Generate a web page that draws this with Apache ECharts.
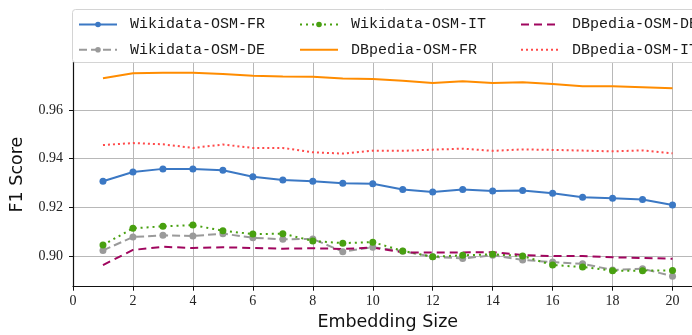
<!DOCTYPE html>
<html>
<head>
<meta charset="utf-8">
<script src="https://cdn.jsdelivr.net/npm/echarts@6/dist/echarts.min.js"></script>
<style>
  html, body { margin: 0; padding: 0; background: #fff; }
  #chart { width: 692px; height: 335px; }
</style>
</head>
<body>
<div id="chart"></div>
<script>
// Embedding sizes on the x axis
const sizes = [1, 2, 3, 4, 5, 6, 7, 8, 9, 10, 11, 12, 13, 14, 15, 16, 17, 18, 19, 20];

// F1 scores per dataset pair
const wikidataFR = [0.9307, 0.9345, 0.9358, 0.9357, 0.9352, 0.9326, 0.9312, 0.9307, 0.9299, 0.9297,
                    0.9273, 0.9263, 0.9273, 0.9267, 0.9269, 0.9258, 0.9241, 0.9237, 0.9232, 0.9210];
const wikidataDE = [0.9023, 0.9078, 0.9085, 0.9082, 0.9092, 0.9075, 0.9069, 0.9070, 0.9018, 0.9036,
                    0.9020, 0.8997, 0.8990, 0.9003, 0.8984, 0.8975, 0.8968, 0.8943, 0.8948, 0.8917];
const wikidataIT = [0.9045, 0.9114, 0.9122, 0.9127, 0.9104, 0.9090, 0.9092, 0.9062, 0.9053, 0.9057,
                    0.9021, 0.8997, 0.9003, 0.9007, 0.9000, 0.8963, 0.8955, 0.8940, 0.8940, 0.8941];
const dbpediaFR  = [0.9730, 0.9751, 0.9753, 0.9753, 0.9748, 0.9741, 0.9738, 0.9736, 0.9729, 0.9727,
                    0.9720, 0.9711, 0.9718, 0.9711, 0.9714, 0.9707, 0.9697, 0.9697, 0.9693, 0.9689];
const dbpediaDE  = [0.8963, 0.9025, 0.9038, 0.9033, 0.9036, 0.9033, 0.9030, 0.9032, 0.9029, 0.9035,
                    0.9015, 0.9015, 0.9015, 0.9016, 0.9004, 0.9000, 0.9000, 0.8995, 0.8992, 0.8989];
const dbpediaIT  = [0.9456, 0.9464, 0.9459, 0.9444, 0.9458, 0.9444, 0.9444, 0.9426, 0.9421, 0.9433,
                    0.9432, 0.9437, 0.9441, 0.9432, 0.9438, 0.9436, 0.9433, 0.9430, 0.9434, 0.9422];

// Legend columns (series drawn with point markers keep them in the legend)
const legendCol1 = ['Wikidata-OSM-FR', 'Wikidata-OSM-DE'];
const legendCol2 = ['Wikidata-OSM-IT', 'DBpedia-OSM-FR'];
const legendCol3 = ['DBpedia-OSM-DE', 'DBpedia-OSM-IT'];
const markedSeries = ['Wikidata-OSM-FR', 'Wikidata-OSM-DE', 'Wikidata-OSM-IT'];

const pairs = (ys) => sizes.map((x, i) => [x, ys[i]]);

const chart = echarts.init(document.getElementById('chart'), null, { renderer: 'canvas' });

const serifFont = '"Liberation Serif", "DejaVu Serif", serif';
const monoFont = '"Liberation Mono", "DejaVu Sans Mono", monospace';
const sansFont = '"DejaVu Sans", sans-serif';

function legendAt(left, names) {
  return {
    data: names.map((n) => markedSeries.includes(n)
      ? { name: n }
      : { name: n, itemStyle: { opacity: 0 } }),
    orient: 'vertical',
    left: left,
    top: 17,
    padding: 0,
    itemWidth: 38,
    itemHeight: 7,
    itemGap: 10.3,
    selectedMode: false,
    z: 6,
    textStyle: {
      fontFamily: monoFont,
      fontSize: 15,
      color: '#1a1a1a',
      lineHeight: 14,
      padding: [0, 0, 0, 8]
    }
  };
}

function lineSeries(name, ys, color, type, withMarker) {
  return {
    name: name,
    type: 'line',
    data: pairs(ys),
    symbol: withMarker ? 'circle' : 'none',
    symbolSize: 7,
    showSymbol: withMarker,
    animation: false,
    lineStyle: { color: color, width: 2, type: type, cap: 'butt' },
    itemStyle: { color: color }
  };
}

chart.setOption({
  backgroundColor: '#fff',
  animation: false,
  grid: {
    left: 73, width: 629.5, top: 62.5, height: 224.2,
    containLabel: false,
    outerBoundsMode: 'none'
  },
  graphic: [{
    type: 'rect',
    z: 5,
    shape: { x: 72.5, y: 9.5, width: 660, height: 53, r: 3 },
    style: { fill: 'rgba(255,255,255,0.85)', stroke: '#d4d4d4', lineWidth: 1 }
  }],
  legend: [legendAt(78, legendCol1), legendAt(299, legendCol2), legendAt(520, legendCol3)],
  xAxis: {
    type: 'value',
    min: 0,
    max: 21,
    interval: 2,
    name: 'Embedding Size',
    nameLocation: 'middle',
    nameGap: 23,
    nameTextStyle: { fontFamily: sansFont, fontSize: 17.5, color: '#111' },
    axisLine: { show: true, lineStyle: { color: '#111', width: 1.2 } },
    axisTick: { show: true, inside: false, length: 4, lineStyle: { color: '#111', width: 1 } },
    axisLabel: {
      margin: 8,
      fontFamily: serifFont,
      fontSize: 14,
      color: '#222',
      formatter: (v) => (v % 2 === 0 ? String(v) : '')
    },
    splitLine: { show: true, lineStyle: { color: '#b8b8b8', width: 1 } }
  },
  yAxis: {
    type: 'value',
    min: 0.8874,
    max: 0.9795,
    splitNumber: 5,
    name: 'F1 Score',
    nameLocation: 'middle',
    nameGap: 47,
    nameTextStyle: { fontFamily: sansFont, fontSize: 17.5, color: '#111' },
    axisLine: { show: true, lineStyle: { color: '#111', width: 1.2 } },
    axisTick: { show: true, inside: false, length: 4, lineStyle: { color: '#111', width: 1 } },
    axisLabel: {
      margin: 10,
      showMinLabel: false,
      showMaxLabel: false,
      fontFamily: serifFont,
      fontSize: 14,
      color: '#222',
      formatter: (v) => v.toFixed(2)
    },
    splitLine: { show: true, lineStyle: { color: '#b8b8b8', width: 1 } }
  },
  series: [
    lineSeries('Wikidata-OSM-FR', wikidataFR, '#3b78c4', 'solid', true),
    lineSeries('Wikidata-OSM-DE', wikidataDE, '#9a9a9a', [8, 4], true),
    lineSeries('Wikidata-OSM-IT', wikidataIT, '#48a010', [2, 4], true),
    lineSeries('DBpedia-OSM-FR', dbpediaFR, '#ff8c00', 'solid', false),
    lineSeries('DBpedia-OSM-DE', dbpediaDE, '#a0065e', [8, 5], false),
    lineSeries('DBpedia-OSM-IT', dbpediaIT, '#ff4a4a', [2, 3], false)
  ]
});
</script>
</body>
</html>
